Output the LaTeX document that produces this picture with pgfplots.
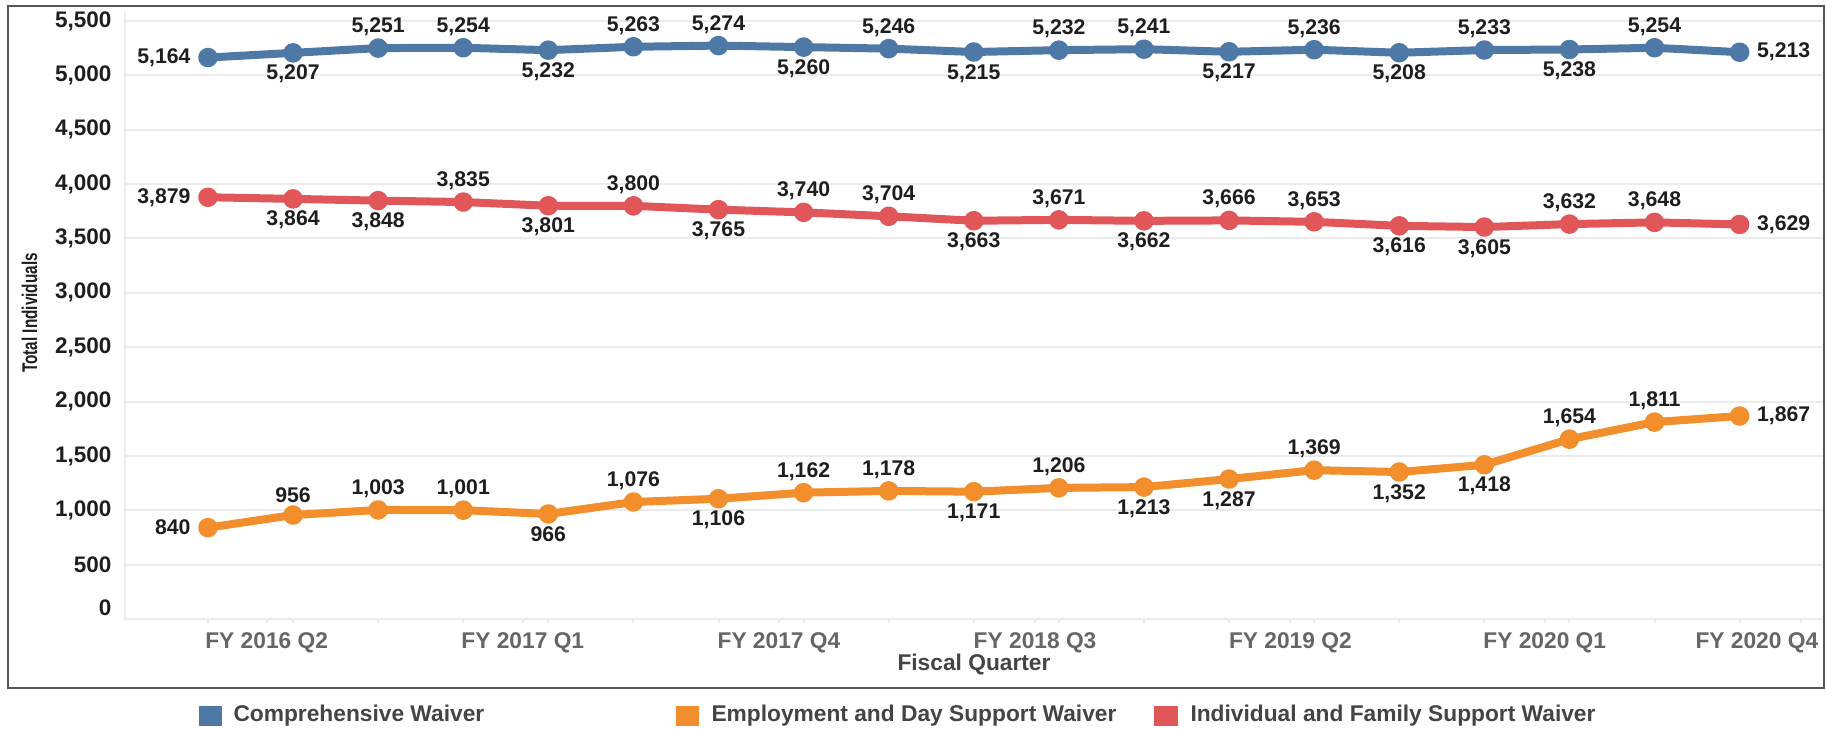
\documentclass[border=0pt]{standalone}
\usepackage{fontspec}
\setmainfont{Liberation Sans}
\usepackage{graphicx}
\usepackage{pgfplots}
\usepackage{pgfplotstable}
\pgfplotsset{compat=1.18}
\definecolor{cblue}{HTML}{4E79A7}
\definecolor{corange}{HTML}{F28E2B}
\definecolor{cred}{HTML}{E15759}
\definecolor{gridc}{HTML}{EBEBEB}
\definecolor{txt}{HTML}{1E1E1E}
\definecolor{tickgray}{HTML}{666666}
\definecolor{titlec}{HTML}{444444}
\definecolor{framec}{HTML}{555555}
\pgfkeys{/pgf/number format/.cd, 1000 sep={,}, assume math mode=true}

\pgfplotstableread{
x y a
0 5164 east
1 5207 north
2 5251 south
3 5254 south
4 5232 north
5 5263 south
6 5274 south
7 5260 north
8 5246 south
9 5215 north
10 5232 south
11 5241 south
12 5217 north
13 5236 south
14 5208 north
15 5233 south
16 5238 north
17 5254 south
18 5213 west
}\comp

\pgfplotstableread{
x y a
0 3879 east
1 3864 north
2 3848 north
3 3835 south
4 3801 north
5 3800 south
6 3765 north
7 3740 south
8 3704 south
9 3663 north
10 3671 south
11 3662 north
12 3666 south
13 3653 south
14 3616 north
15 3605 north
16 3632 south
17 3648 south
18 3629 west
}\ifs

\pgfplotstableread{
x y a
0 840 east
1 956 south
2 1003 south
3 1001 south
4 966 north
5 1076 south
6 1106 north
7 1162 south
8 1178 south
9 1171 north
10 1206 south
11 1213 north
12 1287 north
13 1369 south
14 1352 north
15 1418 north
16 1654 south
17 1811 south
18 1867 west
}\eds

\pgfplotsset{
  labeled/.style={
    line width=3.2pt, line join=round, mark=*, mark size=2.3pt,
    point meta=explicit symbolic,
    visualization depends on={y \as \rawy},
    nodes near coords={\pgfmathprintnumber{\rawy}},
    every node near coord/.append style={anchor=\pgfplotspointmeta},
  },
  endmarks/.style={only marks, mark=*, mark size=3.2pt, forget plot,
    skip coords between index={1}{18}},
}

\begin{document}
\begin{tikzpicture}
\useasboundingbox (0,0) rectangle (730.8pt,291.6pt);
\draw[framec, line width=0.9pt] (729.6pt,16.4pt) -- (3.2pt,16.4pt) -- (3.2pt,289.2pt) -- (729.6pt,289.2pt) -- cycle;
\begin{axis}[
  at={(50pt,44pt)}, anchor=south west,
  scale only axis, width=679.2pt, height=242.8pt,
  xmin=-0.975, xmax=18.98, ymin=0, ymax=5583,
  clip=false,
  axis lines*=left,
  axis line style={draw=gridc, line width=0.8pt, -},
  ytick={500,1000,...,5500},
  extra y ticks={0},
  extra y tick style={tick label style={yshift=4.4pt}},
  scaled y ticks=false,
  ymajorgrids, grid style={draw=gridc, line width=0.8pt},
  ytick style={draw=none},
  xtick style={draw=gridc, line width=0.8pt},
  xtick align=outside,
  major tick length=1.6pt, minor tick length=1.6pt,
  minor xtick={0,1,...,18},
  yticklabel style={font=\fontsize{9}{10}\selectfont\bfseries, text=txt, inner sep=0pt, xshift=-5.2pt},
  xtick={0.69,3.70,6.71,9.72,12.72,15.71},
  xticklabels={FY 2016 Q2,FY 2017 Q1,FY 2017 Q4,FY 2018 Q3,FY 2019 Q2,FY 2020 Q1},
  extra x ticks={18.72}, extra x tick labels={FY 2020 Q4},
  extra x tick style={tick label style={xshift=-17.6pt}},
  xticklabel style={font=\fontsize{9.1}{10}\selectfont\bfseries, text=tickgray, inner sep=0pt, anchor=north, yshift=-3.6pt},
  every node near coord/.append style={font=\fontsize{8.5}{9}\selectfont\bfseries, text=txt, inner sep=0pt, outer xsep=7pt, outer ysep=4.9pt},
]
\addplot[cblue, labeled, mark options={draw=none, fill=cblue}] table[x=x,y=y,meta=a]{\comp};
\addplot[cblue, endmarks, mark options={draw=none, fill=cblue}] table[x=x,y=y]{\comp};

\addplot[cred, labeled, mark options={draw=none, fill=cred}] table[x=x,y=y,meta=a]{\ifs};
\addplot[cred, endmarks, mark options={draw=none, fill=cred}] table[x=x,y=y]{\ifs};

\addplot[corange, labeled, mark options={draw=none, fill=corange}] table[x=x,y=y,meta=a]{\eds};
\addplot[corange, endmarks, mark options={draw=none, fill=corange}] table[x=x,y=y]{\eds};
\end{axis}

% axis titles
\node[rotate=90, font=\fontsize{8.5}{9}\selectfont\bfseries, text=txt, inner sep=0pt] at (11.8pt,166.4pt) {\scalebox{0.72}[1]{Total Individuals}};
\node[font=\fontsize{9.1}{10}\selectfont\bfseries, text=titlec, inner sep=0pt] at (389.6pt,26pt) {Fiscal Quarter};

% legend
\fill[cblue] (79.6pt,1.2pt) rectangle (88.8pt,9.2pt);
\node[anchor=west, inner sep=0pt, font=\fontsize{9.1}{10}\selectfont\bfseries, text=titlec] at (93.2pt,5.2pt) {Comprehensive Waiver};
\fill[corange] (270.4pt,1.2pt) rectangle (279.6pt,9.2pt);
\node[anchor=west, inner sep=0pt, font=\fontsize{9.1}{10}\selectfont\bfseries, text=titlec] at (284.4pt,5.2pt) {Employment and Day Support Waiver};
\fill[cred] (461.6pt,1.2pt) rectangle (471.2pt,9.2pt);
\node[anchor=west, inner sep=0pt, font=\fontsize{9.1}{10}\selectfont\bfseries, text=titlec] at (476pt,5.2pt) {Individual and Family Support Waiver};
\end{tikzpicture}
\end{document}
